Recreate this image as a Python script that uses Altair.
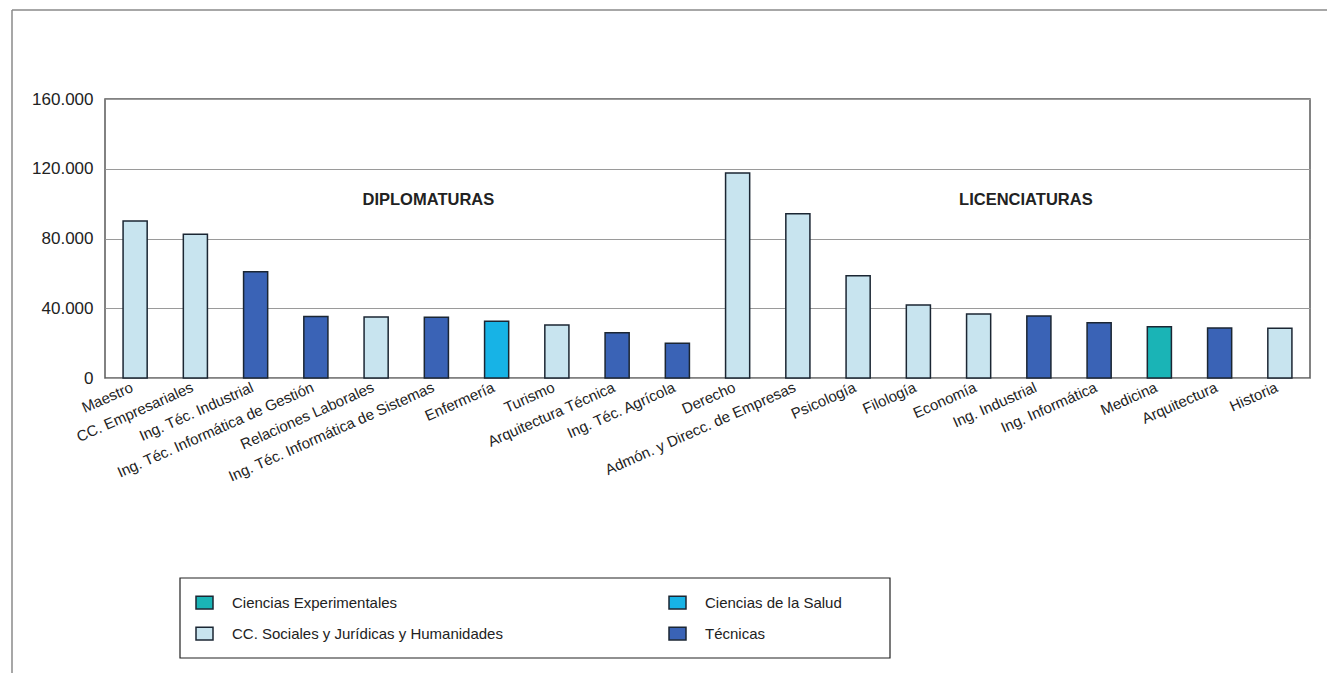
import altair as alt
import pandas as pd

categories = [
    "Maestro", "CC. Empresariales", "Ing. Téc. Industrial",
    "Ing. Téc. Informática de Gestión", "Relaciones Laborales",
    "Ing. Téc. Informática de Sistemas", "Enfermería", "Turismo",
    "Arquitectura Técnica", "Ing. Téc. Agrícola", "Derecho",
    "Admón. y Direcc. de Empresas", "Psicología", "Filología", "Economía",
    "Ing. Industrial", "Ing. Informática", "Medicina", "Arquitectura", "Historia",
]
values = [90000, 82500, 61000, 35200, 35000, 34800, 32500, 30400, 26000, 19900,
          117500, 94200, 58700, 41900, 36700, 35500, 31700, 29400, 28700, 28500]
S = "CC. Sociales y Jurídicas y Humanidades"
T = "Técnicas"
H = "Ciencias de la Salud"
E = "Ciencias Experimentales"
areas = [S, S, T, T, S, T, H, S, T, T, S, S, S, S, S, T, T, E, T, S]
# legend fills column by column: E, S in column 1; H, T in column 2
area_order = [E, S, H, T]
area_colors = ["#1AB4B6", "#C8E4EF", "#17B3E6", "#3A63B6"]
y_ticks = [0, 40000, 80000, 120000, 160000]
section_labels = ["DIPLOMATURAS", "LICENCIATURAS"]
section_anchor = ["Ing. Téc. Informática de Sistemas", "Ing. Industrial"]
section_y = [102000, 102000]

FONT = "Liberation Sans"
df = pd.DataFrame({"carrera": categories, "alumnos": values, "area": areas})

x_enc = alt.X(
    "carrera:N", sort=categories,
    scale=alt.Scale(paddingInner=0.6, paddingOuter=0.3),
    axis=alt.Axis(title=None, labelAngle=-24, labelAlign="right",
                  labelBaseline="middle", labelFontSize=15, labelPadding=8,
                  labelOffset=-3, ticks=False, domain=False, labelColor="#222",
                  labelFont=FONT, labelLimit=0, labelOverlap=False),
)
y_enc = alt.Y(
    "alumnos:Q",
    scale=alt.Scale(domain=[0, 160000], nice=False),
    axis=alt.Axis(title=None, values=y_ticks,
                  labelExpr="replace(format(datum.value, ',d'), ',', '.')",
                  labelFontSize=17, labelPadding=12, ticks=False, domain=False,
                  gridColor="#9a9a9a", gridWidth=1.2, labelColor="#222",
                  labelFont=FONT),
)

bars = alt.Chart(df).mark_bar(stroke="#1b2633", strokeWidth=1.5).encode(
    x=x_enc,
    y=y_enc,
    color=alt.Color(
        "area:N",
        scale=alt.Scale(domain=area_order, range=area_colors),
        legend=alt.Legend(
            title=None, orient="none", legendX=90, legendY=494, columns=2,
            columnPadding=163, rowPadding=12, padding=0, labelLimit=0,
            labelFontSize=15, labelFont=FONT, labelColor="#222", labelOffset=18,
            symbolType="M-1,-0.75H1V0.75H-1Z", symbolSize=289,
            symbolStrokeColor="#1b2633", symbolStrokeWidth=1.5, symbolOpacity=1,
        ),
    ),
)

t1 = pd.DataFrame({"carrera": [section_anchor[0]], "y": [section_y[0]], "label": [section_labels[0]]})
t2 = pd.DataFrame({"carrera": [section_anchor[1]], "y": [section_y[1]], "label": [section_labels[1]]})
txt1 = alt.Chart(t1).mark_text(fontWeight="bold", fontSize=16.5, font=FONT, color="#222", dx=-8).encode(
    x=alt.X("carrera:N", sort=categories), y=alt.Y("y:Q"), text="label:N")
txt2 = alt.Chart(t2).mark_text(fontWeight="bold", fontSize=16.5, font=FONT, color="#222", dx=-13).encode(
    x=alt.X("carrera:N", sort=categories), y=alt.Y("y:Q"), text="label:N")

one = pd.DataFrame({"k": [0]})
legend_box = alt.Chart(one).mark_rect(fill="transparent", stroke="#222", strokeWidth=1.2).encode(
    x=alt.value(75), x2=alt.value(785), y=alt.value(479), y2=alt.value(559))
frame_top = alt.Chart(one).mark_rule(color="#8a8a8a", strokeWidth=1.5).encode(
    x=alt.value(-93), x2=alt.value(1230), y=alt.value(-89))
frame_left = alt.Chart(one).mark_rule(color="#8a8a8a", strokeWidth=1.5).encode(
    x=alt.value(-93), y=alt.value(-89), y2=alt.value(600))

chart = alt.layer(frame_top, frame_left, bars, txt1, txt2, legend_box).properties(
    width=1205, height=279,
    autosize=alt.AutoSizeParams(type="none"),
    padding={"left": 97, "top": 91, "right": 17, "bottom": 295},
).configure(font=FONT).configure_view(stroke="#5a5a5a", strokeWidth=1.5)

chart.save("out.html", embed_options={"renderer": "svg", "actions": False})
